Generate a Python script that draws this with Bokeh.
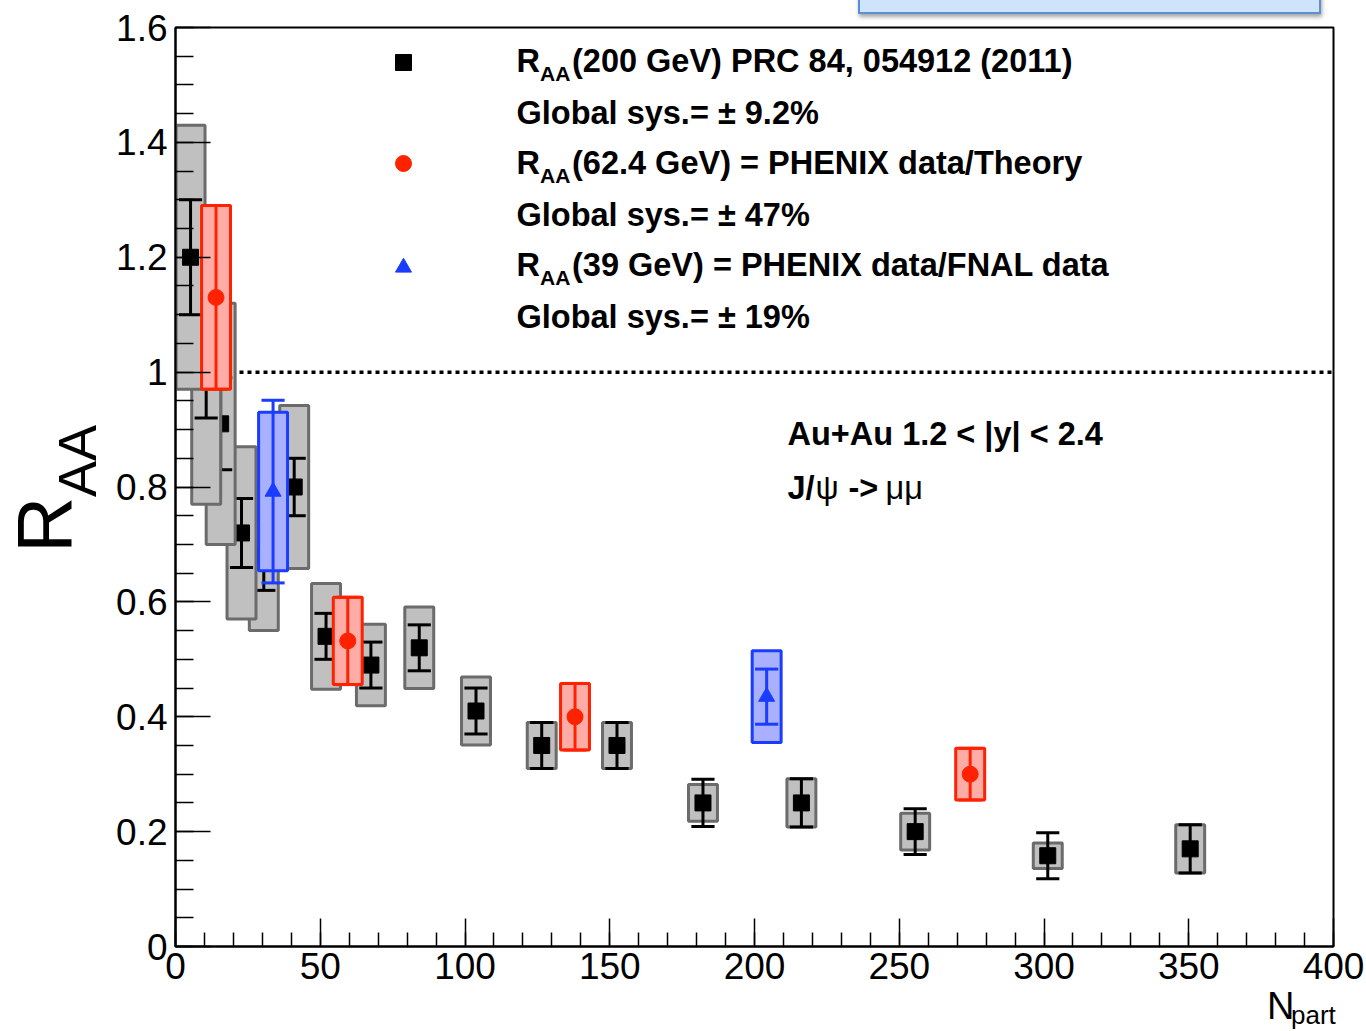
from bokeh.plotting import figure
from bokeh.models import (SingleIntervalTicker, CustomJSTickFormatter, Span, Range1d, Div)
from bokeh.embed import file_html
from bokeh.resources import INLINE
from bokeh.core.properties import value

# ---------------- data ----------------
# R_AA(200 GeV), PRC 84, 054912 (2011)
npart_200 = [5.2, 10.6, 15.6, 22.8, 30.5, 41.0, 52.0, 67.5, 84.2, 103.8,
             126.5, 152.5, 182.2, 216.2, 255.5, 301.3, 350.5]
raa_200 = [1.20, 1.03, 0.91, 0.72, 0.68, 0.80, 0.54, 0.49, 0.52, 0.41,
           0.35, 0.35, 0.25, 0.25, 0.20, 0.158, 0.17]
stat_200 = [0.10, 0.11, 0.08, 0.06, 0.06, 0.05, 0.04, 0.04, 0.04, 0.04,
            0.04, 0.04, 0.041, 0.042, 0.04, 0.04, 0.042]
sys_200 = [0.23, 0.26, 0.21, 0.15, 0.13, 0.142, 0.092, 0.071, 0.071, 0.059,
           0.04, 0.04, 0.032, 0.042, 0.032, 0.022, 0.042]

# R_AA(62.4 GeV) = PHENIX data / Theory
npart_62 = [14.0, 59.5, 138.0, 274.5]
raa_62 = [1.13, 0.532, 0.40, 0.30]
stat_62 = [0.16, 0.076, 0.058, 0.045]
sys_62 = [0.16, 0.076, 0.058, 0.045]

# R_AA(39 GeV) = PHENIX data / FNAL data
npart_39 = [33.7, 204.2]
raa_39 = [0.792, 0.435]
stat_39 = [0.159, 0.048]
sys_39 = [0.138, 0.08]

legend_labels = ["(200 GeV) PRC 84, 054912 (2011)",
                 "(62.4 GeV) = PHENIX data/Theory",
                 "(39 GeV) = PHENIX data/FNAL data"]
global_sys = ["Global sys.= \u00b1 9.2%", "Global sys.= \u00b1 47%", "Global sys.= \u00b1 19%"]

x_tick_interval = 50
y_tick_interval = 0.2

# ---------------- styling / layout ----------------
XMIN, XMAX, YMIN, YMAX = 0, 400, 0, 1.6
W, H = 1366, 1031
FONT = "Liberation Sans"
BOX_HW = 5.0      # half width of systematic boxes (Npart units)
CAP_HW = 4.0      # half width of error caps
GRAY_FILL, GRAY_LINE = "#c0c0c0", "#6b6b6b"
RED, RED_FILL = "#ff2200", "#ffaba6"
BLUE, BLUE_FILL = "#1a3cff", "#a9b0ff"

# frame placement in page pixels
FL, FR, FT, FB = 175, 1333, 27, 946


def dx(px):
    return XMIN + (px - FL) / (FR - FL) * (XMAX - XMIN)


def dy(py):
    return YMIN + (FB - py) / (FB - FT) * (YMAX - YMIN)


p = figure(width=W, height=H, x_range=Range1d(XMIN, XMAX), y_range=Range1d(YMIN, YMAX),
           output_backend="svg", toolbar_location=None, title=None,
           min_border_left=FL, min_border_right=W - FR, min_border_top=FT,
           min_border_bottom=H - FB)
p.xgrid.visible = False
p.ygrid.visible = False
p.background_fill_color = "white"
p.border_fill_color = "white"
p.outline_line_color = "black"
p.outline_line_width = 2

p.xaxis.ticker = SingleIntervalTicker(interval=x_tick_interval, num_minor_ticks=5)
p.yaxis.ticker = SingleIntervalTicker(interval=y_tick_interval, num_minor_ticks=4)
p.yaxis.formatter = CustomJSTickFormatter(code="return (Math.round(tick*10)/10).toString();")
for ax in (p.xaxis, p.yaxis):
    ax.axis_line_color = "black"
    ax.axis_line_width = 2
    ax.major_tick_line_color = "black"
    ax.minor_tick_line_color = "black"
    ax.major_tick_line_width = 1.5
    ax.minor_tick_line_width = 1.5
    ax.major_tick_out = 0
    ax.minor_tick_out = 0
    ax.major_label_text_font = FONT
    ax.major_label_text_font_size = "37px"
    ax.major_label_text_color = "black"
p.xaxis.major_tick_in = 28
p.xaxis.minor_tick_in = 14
p.yaxis.major_tick_in = 35
p.yaxis.minor_tick_in = 18
p.xaxis.major_label_standoff = 6
p.yaxis.major_label_standoff = 8

# R_AA = 1 reference line (under the boxes)
p.add_layout(Span(location=1.0, dimension="width", line_color="black", line_width=3.5,
                  line_dash="4 4", level="underlay"))


def draw_point(x, y, st, sy, fill, line, errcolor, marker, msize, mcolor):
    p.quad(left=[x - BOX_HW], right=[x + BOX_HW], bottom=[y - sy], top=[y + sy],
           fill_color=fill, line_color=line, line_width=3)
    p.segment(x0=[x, x - CAP_HW, x - CAP_HW], y0=[y - st, y + st, y - st],
              x1=[x, x + CAP_HW, x + CAP_HW], y1=[y + st, y + st, y - st],
              line_color=errcolor, line_width=3)
    p.scatter(x=[x], y=[y], marker=marker, size=msize, fill_color=mcolor,
              line_color=mcolor, line_width=1)


# 200 GeV drawn from most central to most peripheral (as in the original)
for i in reversed(range(len(npart_200))):
    draw_point(npart_200[i], raa_200[i], stat_200[i], sys_200[i],
               GRAY_FILL, GRAY_LINE, "black", "square", 16, "black")
for i in range(len(npart_62)):
    draw_point(npart_62[i], raa_62[i], stat_62[i], sys_62[i],
               RED_FILL, RED, RED, "circle", 16, RED)
for i in range(len(npart_39)):
    draw_point(npart_39[i], raa_39[i], stat_39[i], sys_39[i],
               BLUE_FILL, BLUE, BLUE, "triangle", 16, BLUE)


# ---------------- hand-built legend ----------------
def txt(xp, yp, s, size="32.5px", style="bold"):
    p.text(x=[dx(xp)], y=[dy(yp)], text=[s], text_font=value(FONT),
           text_font_style=style, text_font_size=size, text_color="black",
           text_baseline="middle", text_align="left")


leg_marker_px = 403
row_mid = [60, 112, 162, 214, 264, 316]
marker_mid = [62, 163, 267]
leg_markers = [("square", "black", 16), ("circle", RED, 16), ("triangle", BLUE, 16)]
text_x = 516
for k, (mk, col, sz) in enumerate(leg_markers):
    ym = row_mid[2 * k]
    p.scatter(x=[dx(leg_marker_px)], y=[dy(marker_mid[k])], marker=mk, size=sz,
              fill_color=col, line_color=col)
    txt(text_x, ym, "R")
    txt(text_x + 23.5, ym + 13, "AA", size="21px")
    txt(text_x + 55.5, ym, legend_labels[k])
    txt(text_x, row_mid[2 * k + 1], global_sys[k])

# ---------------- annotations ----------------
ann_x = 787
txt(ann_x, 433, "Au+Au 1.2 < |y| < 2.4")
for s, xp, style in [("J/", ann_x, "bold"), ("\u03c8", ann_x + 28, "normal"),
                     ("->", ann_x + 61, "bold"), ("\u03bc\u03bc", ann_x + 98, "normal")]:
    txt(xp, 487, s, style=style)

# ---------------- axis titles + slide box (outside the frame, HTML overlay) ----------------
def span(left, top, text, size, rotate=False, weight="normal"):
    rot = "transform-origin:0 0;transform:rotate(-90deg);" if rotate else ""
    return (f'<span style="position:absolute;left:{left}px;top:{top}px;'
            f'font-family:\'{FONT}\';font-size:{size}px;line-height:1;font-weight:{weight};'
            f'white-space:nowrap;color:black;{rot}">{text}</span>')


overlay_html = (
    '<div style="position:absolute;left:0;top:0;width:%dpx;height:%dpx;">' % (W, H)
    + '<div style="position:absolute;left:853px;top:-20px;width:463px;height:29px;'
      'background:#cfe4fb;border:2px solid #5b8fd0;'
      'box-shadow:1px 3px 4px rgba(0,0,0,0.35);"></div>'
    + span(0, 548, "R", 78, rotate=True)
    + span(45, 492, "AA", 54, rotate=True)
    + span(1262, 982, "N", 38)
    + span(1286, 997, "part", 26)
    + '</div>'
)
overlay = Div(text=overlay_html, width=W, height=H,
              styles={"position": "absolute", "left": "0px", "top": "0px",
                      "pointer-events": "none", "overflow": "visible"})

open("out.html", "w").write(file_html([p, overlay], INLINE))
